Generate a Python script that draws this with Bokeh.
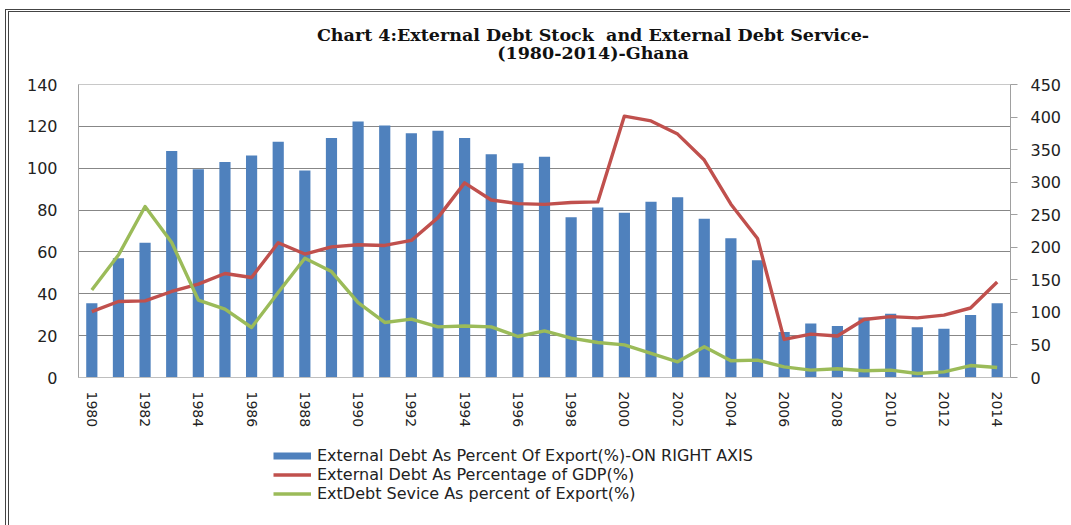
from bokeh.plotting import figure
from bokeh.layouts import column
from bokeh.models import (Range1d, LinearAxis, FixedTicker, Legend, LegendItem, Div)
from bokeh.embed import file_html
from bokeh.resources import INLINE

years = list(range(1980, 2015))
year_labels = [str(y) for y in years]

debt_pct_export = [114, 183, 207, 348, 320, 331, 341, 362, 318, 368, 393, 387,
                   375, 379, 368, 343, 329, 339, 246, 261, 253, 270, 277, 244,
                   214, 180, 70, 83, 79, 92, 98, 77, 75, 96, 114]
debt_pct_gdp = [31.5, 36.3, 36.6, 41.1, 44.6, 49.7, 47.8, 64.4, 59.0, 62.4, 63.4, 63.1,
                65.5, 76.4, 93.0, 84.8, 83.1, 82.7, 83.6, 83.9, 124.9, 122.6, 116.3, 103.9,
                82.8, 66.4, 18.2, 20.7, 19.8, 27.7, 29.1, 28.5, 29.8, 33.2, 45.6]
service_pct_export = [41.8, 58.5, 81.7, 64.5, 37.0, 32.7, 23.9, 40.6, 57.0, 50.6, 35.8, 26.3,
                      27.9, 24.2, 24.6, 24.2, 19.6, 22.3, 18.8, 16.7, 15.6, 11.5, 7.5, 14.7,
                      8.0, 8.3, 5.1, 3.5, 4.2, 3.2, 3.5, 1.9, 2.7, 5.7, 4.8]

left_ticks = [0, 20, 40, 60, 80, 100, 120, 140]
right_ticks = [0, 50, 100, 150, 200, 250, 300, 350, 400, 450]
x_ticks = years[::2]

title_lines = ["Chart 4:External Debt Stock&nbsp; and External Debt Service-", "(1980-2014)-Ghana"]
series_names = ["External Debt As Percent Of Export(%)-ON RIGHT AXIS",
                "External Debt As Percentage of GDP(%)",
                "ExtDebt Sevice As percent of Export(%)"]

BLUE = "#4F81BD"
RED = "#C0504D"
GREEN = "#9BBB59"

W = 1061

title_div = Div(
    text=('<div style="width:%dpx;box-sizing:border-box;padding-left:107px;padding-top:14px;'
          'text-align:center;font-family:\'DejaVu Serif\';font-weight:bold;font-size:17.5px;'
          'line-height:18px;color:#111;white-space:nowrap;">%s<br>%s</div>') % (W, title_lines[0], title_lines[1]),
    width=W, height=60, margin=0)

p = figure(width=W, height=368, output_backend="svg", toolbar_location=None,
           x_range=Range1d(1979.5, 2014.5), y_range=Range1d(0, 140),
           min_border_left=69, min_border_right=60, min_border_top=12, min_border_bottom=63,
           margin=0)
p.extra_y_ranges = {"right": Range1d(0, 450)}

p.outline_line_color = "#C8C8C8"
p.background_fill_color = "white"
p.border_fill_color = "white"

bars = p.vbar(x=years, top=debt_pct_export, width=0.42, bottom=0,
              fill_color=BLUE, line_color=None, y_range_name="right")
red = p.line(years, debt_pct_gdp, line_color=RED, line_width=3.4, line_join="round")
green = p.line(years, service_pct_export, line_color=GREEN, line_width=3.4, line_join="round")

# x axis
xa = p.xaxis[0]
xa.ticker = FixedTicker(ticks=x_ticks)
xa.major_label_overrides = {y: l for y, l in zip(years, year_labels)}
xa.major_label_orientation = -1.5708
xa.major_tick_line_color = None
xa.major_tick_out = 0
xa.minor_tick_line_color = None
xa.axis_line_color = "#BEBEBE"
xa.major_label_text_font = "DejaVu Sans"
xa.major_label_text_font_size = "14px"
xa.major_label_text_color = "#222222"
xa.major_label_standoff = 14

# left axis
ya = p.yaxis[0]
ya.ticker = FixedTicker(ticks=left_ticks)
ya.major_tick_line_color = None
ya.major_tick_out = 0
ya.minor_tick_line_color = None
ya.axis_line_color = "#A0A0A0"
ya.major_label_text_font = "DejaVu Sans"
ya.major_label_text_font_size = "16px"
ya.major_label_text_color = "#222222"
ya.major_label_standoff = 21

# right axis
ra = LinearAxis(y_range_name="right", ticker=FixedTicker(ticks=right_ticks))
ra.major_tick_in = 0
ra.major_tick_out = 7
ra.major_tick_line_color = "#A0A0A0"
ra.minor_tick_line_color = None
ra.axis_line_color = "#A0A0A0"
ra.major_label_text_font = "DejaVu Sans"
ra.major_label_text_font_size = "16px"
ra.major_label_text_color = "#222222"
ra.major_label_standoff = 13
p.add_layout(ra, "right")

p.xgrid.grid_line_color = None
p.ygrid.grid_line_color = "#878787"
p.ygrid.grid_line_width = 1
p.ygrid.ticker = FixedTicker(ticks=left_ticks[1:-1])

# legend strip (separate small figure holding the legend keys; key lines lie outside its view)
lg = figure(width=W, height=85, output_backend="svg", toolbar_location=None,
            x_range=Range1d(0, 1), y_range=Range1d(0, 1),
            x_axis_type=None, y_axis_type=None, min_border=0, margin=0)
lg.outline_line_color = None
lg.xgrid.visible = False
lg.ygrid.visible = False
k_blue = lg.line([5, 6], [5, 5], line_color=BLUE, line_width=7, line_cap="butt")
k_red = lg.line([5, 6], [5, 5], line_color=RED, line_width=3.4)
k_green = lg.line([5, 6], [5, 5], line_color=GREEN, line_width=3.4)

legend = Legend(items=[LegendItem(label=series_names[0], renderers=[k_blue]),
                       LegendItem(label=series_names[1], renderers=[k_red]),
                       LegendItem(label=series_names[2], renderers=[k_green])],
                location=(195, 22), orientation="vertical",
                glyph_width=38, glyph_height=19, label_height=19, spacing=0,
                padding=0, margin=0, label_standoff=6,
                label_text_font="DejaVu Sans", label_text_font_size="16px",
                label_text_color="#222222",
                border_line_color=None, background_fill_alpha=0)
lg.add_layout(legend, "center")

layout = column(title_div, p, lg, spacing=0, margin=0)
layout.styles = {"margin-left": "5px", "margin-top": "9px",
                 "border-left": "4px double #444", "border-top": "3px double #444"}

open("out.html", "w").write(file_html(layout, INLINE))
